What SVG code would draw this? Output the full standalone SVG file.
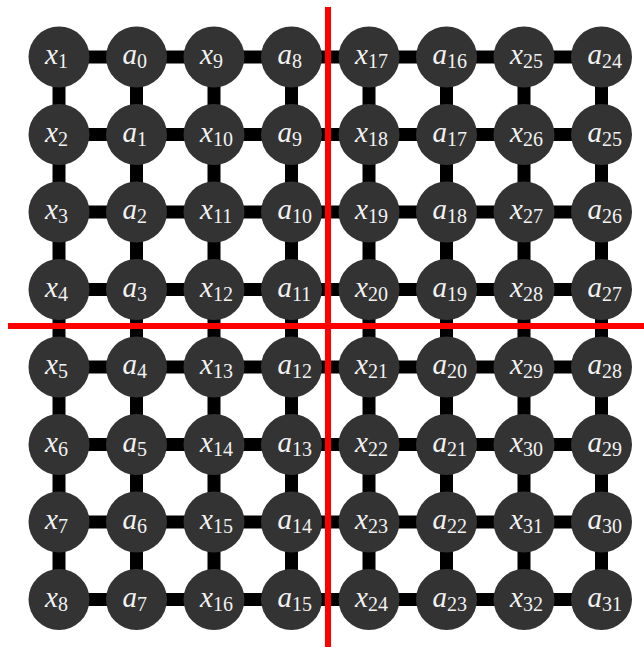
<svg xmlns="http://www.w3.org/2000/svg" width="644" height="649" viewBox="0 0 644 649">
<style>
.e{stroke:#000;stroke-width:13}
.n{fill:#333}
.t{fill:#f2f2f2;font-family:"Liberation Serif",serif;font-style:italic;font-size:29px}
.s{font-style:normal;font-size:20px}
.r{stroke:#f00;stroke-width:6}
</style>
<g id="connectors">
<line class="e" x1="59" y1="57" x2="601.5" y2="57"/>
<line class="e" x1="59" y1="134.5" x2="601.5" y2="134.5"/>
<line class="e" x1="59" y1="212" x2="601.5" y2="212"/>
<line class="e" x1="59" y1="289.5" x2="601.5" y2="289.5"/>
<line class="e" x1="59" y1="367" x2="601.5" y2="367"/>
<line class="e" x1="59" y1="444.5" x2="601.5" y2="444.5"/>
<line class="e" x1="59" y1="522" x2="601.5" y2="522"/>
<line class="e" x1="59" y1="599.5" x2="601.5" y2="599.5"/>
<line class="e" x1="59" y1="57" x2="59" y2="599.5"/>
<line class="e" x1="136.5" y1="57" x2="136.5" y2="599.5"/>
<line class="e" x1="214" y1="57" x2="214" y2="599.5"/>
<line class="e" x1="291.5" y1="57" x2="291.5" y2="599.5"/>
<line class="e" x1="369" y1="57" x2="369" y2="599.5"/>
<line class="e" x1="446.5" y1="57" x2="446.5" y2="599.5"/>
<line class="e" x1="524" y1="57" x2="524" y2="599.5"/>
<line class="e" x1="601.5" y1="57" x2="601.5" y2="599.5"/>
</g>
<g id="n_x1"><circle class="n" cx="59" cy="57" r="30.5"/><text class="t" x="45" y="64">x<tspan class="s" dy="4">1</tspan></text></g>
<g id="n_a0"><circle class="n" cx="136.5" cy="57" r="30.5"/><text class="t" x="122.5" y="64">a<tspan class="s" dy="4">0</tspan></text></g>
<g id="n_x9"><circle class="n" cx="214" cy="57" r="30.5"/><text class="t" x="200" y="64">x<tspan class="s" dy="4">9</tspan></text></g>
<g id="n_a8"><circle class="n" cx="291.5" cy="57" r="30.5"/><text class="t" x="277.5" y="64">a<tspan class="s" dy="4">8</tspan></text></g>
<g id="n_x17"><circle class="n" cx="369" cy="57" r="30.5"/><text class="t" x="355" y="64">x<tspan class="s" dy="4">17</tspan></text></g>
<g id="n_a16"><circle class="n" cx="446.5" cy="57" r="30.5"/><text class="t" x="432.5" y="64">a<tspan class="s" dy="4">16</tspan></text></g>
<g id="n_x25"><circle class="n" cx="524" cy="57" r="30.5"/><text class="t" x="510" y="64">x<tspan class="s" dy="4">25</tspan></text></g>
<g id="n_a24"><circle class="n" cx="601.5" cy="57" r="30.5"/><text class="t" x="587.5" y="64">a<tspan class="s" dy="4">24</tspan></text></g>
<g id="n_x2"><circle class="n" cx="59" cy="134.5" r="30.5"/><text class="t" x="45" y="141.5">x<tspan class="s" dy="4">2</tspan></text></g>
<g id="n_a1"><circle class="n" cx="136.5" cy="134.5" r="30.5"/><text class="t" x="122.5" y="141.5">a<tspan class="s" dy="4">1</tspan></text></g>
<g id="n_x10"><circle class="n" cx="214" cy="134.5" r="30.5"/><text class="t" x="200" y="141.5">x<tspan class="s" dy="4">10</tspan></text></g>
<g id="n_a9"><circle class="n" cx="291.5" cy="134.5" r="30.5"/><text class="t" x="277.5" y="141.5">a<tspan class="s" dy="4">9</tspan></text></g>
<g id="n_x18"><circle class="n" cx="369" cy="134.5" r="30.5"/><text class="t" x="355" y="141.5">x<tspan class="s" dy="4">18</tspan></text></g>
<g id="n_a17"><circle class="n" cx="446.5" cy="134.5" r="30.5"/><text class="t" x="432.5" y="141.5">a<tspan class="s" dy="4">17</tspan></text></g>
<g id="n_x26"><circle class="n" cx="524" cy="134.5" r="30.5"/><text class="t" x="510" y="141.5">x<tspan class="s" dy="4">26</tspan></text></g>
<g id="n_a25"><circle class="n" cx="601.5" cy="134.5" r="30.5"/><text class="t" x="587.5" y="141.5">a<tspan class="s" dy="4">25</tspan></text></g>
<g id="n_x3"><circle class="n" cx="59" cy="212" r="30.5"/><text class="t" x="45" y="219">x<tspan class="s" dy="4">3</tspan></text></g>
<g id="n_a2"><circle class="n" cx="136.5" cy="212" r="30.5"/><text class="t" x="122.5" y="219">a<tspan class="s" dy="4">2</tspan></text></g>
<g id="n_x11"><circle class="n" cx="214" cy="212" r="30.5"/><text class="t" x="200" y="219">x<tspan class="s" dy="4">11</tspan></text></g>
<g id="n_a10"><circle class="n" cx="291.5" cy="212" r="30.5"/><text class="t" x="277.5" y="219">a<tspan class="s" dy="4">10</tspan></text></g>
<g id="n_x19"><circle class="n" cx="369" cy="212" r="30.5"/><text class="t" x="355" y="219">x<tspan class="s" dy="4">19</tspan></text></g>
<g id="n_a18"><circle class="n" cx="446.5" cy="212" r="30.5"/><text class="t" x="432.5" y="219">a<tspan class="s" dy="4">18</tspan></text></g>
<g id="n_x27"><circle class="n" cx="524" cy="212" r="30.5"/><text class="t" x="510" y="219">x<tspan class="s" dy="4">27</tspan></text></g>
<g id="n_a26"><circle class="n" cx="601.5" cy="212" r="30.5"/><text class="t" x="587.5" y="219">a<tspan class="s" dy="4">26</tspan></text></g>
<g id="n_x4"><circle class="n" cx="59" cy="289.5" r="30.5"/><text class="t" x="45" y="296.5">x<tspan class="s" dy="4">4</tspan></text></g>
<g id="n_a3"><circle class="n" cx="136.5" cy="289.5" r="30.5"/><text class="t" x="122.5" y="296.5">a<tspan class="s" dy="4">3</tspan></text></g>
<g id="n_x12"><circle class="n" cx="214" cy="289.5" r="30.5"/><text class="t" x="200" y="296.5">x<tspan class="s" dy="4">12</tspan></text></g>
<g id="n_a11"><circle class="n" cx="291.5" cy="289.5" r="30.5"/><text class="t" x="277.5" y="296.5">a<tspan class="s" dy="4">11</tspan></text></g>
<g id="n_x20"><circle class="n" cx="369" cy="289.5" r="30.5"/><text class="t" x="355" y="296.5">x<tspan class="s" dy="4">20</tspan></text></g>
<g id="n_a19"><circle class="n" cx="446.5" cy="289.5" r="30.5"/><text class="t" x="432.5" y="296.5">a<tspan class="s" dy="4">19</tspan></text></g>
<g id="n_x28"><circle class="n" cx="524" cy="289.5" r="30.5"/><text class="t" x="510" y="296.5">x<tspan class="s" dy="4">28</tspan></text></g>
<g id="n_a27"><circle class="n" cx="601.5" cy="289.5" r="30.5"/><text class="t" x="587.5" y="296.5">a<tspan class="s" dy="4">27</tspan></text></g>
<g id="n_x5"><circle class="n" cx="59" cy="367" r="30.5"/><text class="t" x="45" y="374">x<tspan class="s" dy="4">5</tspan></text></g>
<g id="n_a4"><circle class="n" cx="136.5" cy="367" r="30.5"/><text class="t" x="122.5" y="374">a<tspan class="s" dy="4">4</tspan></text></g>
<g id="n_x13"><circle class="n" cx="214" cy="367" r="30.5"/><text class="t" x="200" y="374">x<tspan class="s" dy="4">13</tspan></text></g>
<g id="n_a12"><circle class="n" cx="291.5" cy="367" r="30.5"/><text class="t" x="277.5" y="374">a<tspan class="s" dy="4">12</tspan></text></g>
<g id="n_x21"><circle class="n" cx="369" cy="367" r="30.5"/><text class="t" x="355" y="374">x<tspan class="s" dy="4">21</tspan></text></g>
<g id="n_a20"><circle class="n" cx="446.5" cy="367" r="30.5"/><text class="t" x="432.5" y="374">a<tspan class="s" dy="4">20</tspan></text></g>
<g id="n_x29"><circle class="n" cx="524" cy="367" r="30.5"/><text class="t" x="510" y="374">x<tspan class="s" dy="4">29</tspan></text></g>
<g id="n_a28"><circle class="n" cx="601.5" cy="367" r="30.5"/><text class="t" x="587.5" y="374">a<tspan class="s" dy="4">28</tspan></text></g>
<g id="n_x6"><circle class="n" cx="59" cy="444.5" r="30.5"/><text class="t" x="45" y="451.5">x<tspan class="s" dy="4">6</tspan></text></g>
<g id="n_a5"><circle class="n" cx="136.5" cy="444.5" r="30.5"/><text class="t" x="122.5" y="451.5">a<tspan class="s" dy="4">5</tspan></text></g>
<g id="n_x14"><circle class="n" cx="214" cy="444.5" r="30.5"/><text class="t" x="200" y="451.5">x<tspan class="s" dy="4">14</tspan></text></g>
<g id="n_a13"><circle class="n" cx="291.5" cy="444.5" r="30.5"/><text class="t" x="277.5" y="451.5">a<tspan class="s" dy="4">13</tspan></text></g>
<g id="n_x22"><circle class="n" cx="369" cy="444.5" r="30.5"/><text class="t" x="355" y="451.5">x<tspan class="s" dy="4">22</tspan></text></g>
<g id="n_a21"><circle class="n" cx="446.5" cy="444.5" r="30.5"/><text class="t" x="432.5" y="451.5">a<tspan class="s" dy="4">21</tspan></text></g>
<g id="n_x30"><circle class="n" cx="524" cy="444.5" r="30.5"/><text class="t" x="510" y="451.5">x<tspan class="s" dy="4">30</tspan></text></g>
<g id="n_a29"><circle class="n" cx="601.5" cy="444.5" r="30.5"/><text class="t" x="587.5" y="451.5">a<tspan class="s" dy="4">29</tspan></text></g>
<g id="n_x7"><circle class="n" cx="59" cy="522" r="30.5"/><text class="t" x="45" y="529">x<tspan class="s" dy="4">7</tspan></text></g>
<g id="n_a6"><circle class="n" cx="136.5" cy="522" r="30.5"/><text class="t" x="122.5" y="529">a<tspan class="s" dy="4">6</tspan></text></g>
<g id="n_x15"><circle class="n" cx="214" cy="522" r="30.5"/><text class="t" x="200" y="529">x<tspan class="s" dy="4">15</tspan></text></g>
<g id="n_a14"><circle class="n" cx="291.5" cy="522" r="30.5"/><text class="t" x="277.5" y="529">a<tspan class="s" dy="4">14</tspan></text></g>
<g id="n_x23"><circle class="n" cx="369" cy="522" r="30.5"/><text class="t" x="355" y="529">x<tspan class="s" dy="4">23</tspan></text></g>
<g id="n_a22"><circle class="n" cx="446.5" cy="522" r="30.5"/><text class="t" x="432.5" y="529">a<tspan class="s" dy="4">22</tspan></text></g>
<g id="n_x31"><circle class="n" cx="524" cy="522" r="30.5"/><text class="t" x="510" y="529">x<tspan class="s" dy="4">31</tspan></text></g>
<g id="n_a30"><circle class="n" cx="601.5" cy="522" r="30.5"/><text class="t" x="587.5" y="529">a<tspan class="s" dy="4">30</tspan></text></g>
<g id="n_x8"><circle class="n" cx="59" cy="599.5" r="30.5"/><text class="t" x="45" y="606.5">x<tspan class="s" dy="4">8</tspan></text></g>
<g id="n_a7"><circle class="n" cx="136.5" cy="599.5" r="30.5"/><text class="t" x="122.5" y="606.5">a<tspan class="s" dy="4">7</tspan></text></g>
<g id="n_x16"><circle class="n" cx="214" cy="599.5" r="30.5"/><text class="t" x="200" y="606.5">x<tspan class="s" dy="4">16</tspan></text></g>
<g id="n_a15"><circle class="n" cx="291.5" cy="599.5" r="30.5"/><text class="t" x="277.5" y="606.5">a<tspan class="s" dy="4">15</tspan></text></g>
<g id="n_x24"><circle class="n" cx="369" cy="599.5" r="30.5"/><text class="t" x="355" y="606.5">x<tspan class="s" dy="4">24</tspan></text></g>
<g id="n_a23"><circle class="n" cx="446.5" cy="599.5" r="30.5"/><text class="t" x="432.5" y="606.5">a<tspan class="s" dy="4">23</tspan></text></g>
<g id="n_x32"><circle class="n" cx="524" cy="599.5" r="30.5"/><text class="t" x="510" y="606.5">x<tspan class="s" dy="4">32</tspan></text></g>
<g id="n_a31"><circle class="n" cx="601.5" cy="599.5" r="30.5"/><text class="t" x="587.5" y="606.5">a<tspan class="s" dy="4">31</tspan></text></g>
<g id="dividers">
<line class="r" x1="328" y1="7" x2="328" y2="647"/>
<line class="r" x1="8" y1="326" x2="644" y2="326"/>
</g>
</svg>
